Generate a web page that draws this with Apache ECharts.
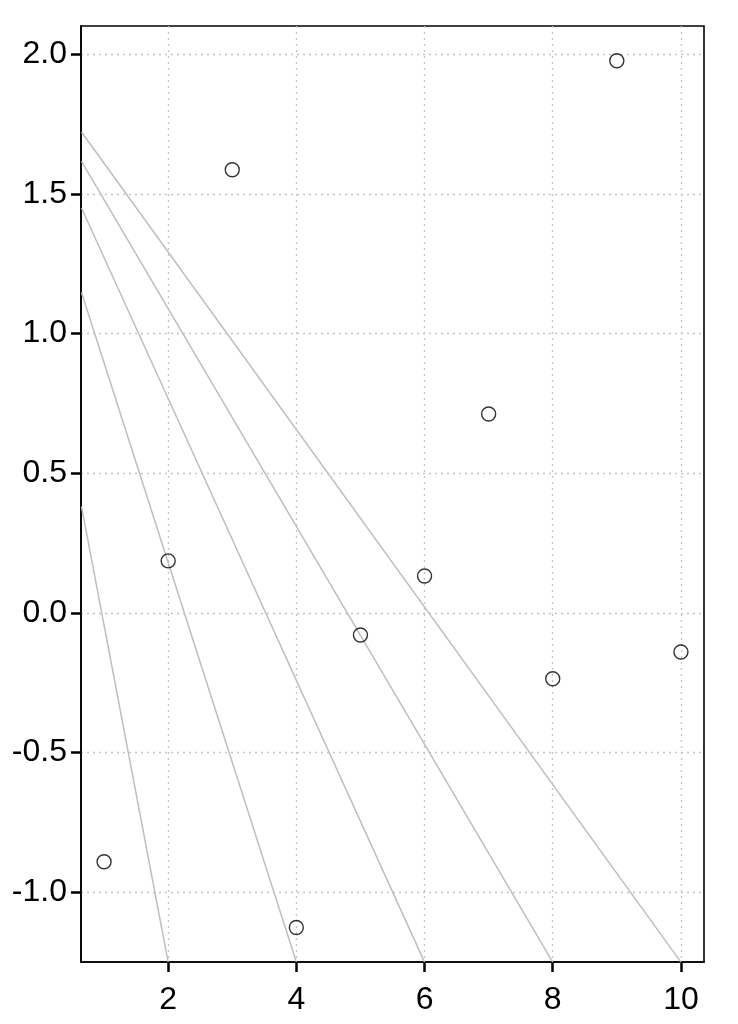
<!DOCTYPE html>
<html>
<head>
<meta charset="utf-8">
<script src="https://cdn.jsdelivr.net/npm/echarts@6/dist/echarts.min.js"></script>
<style>
html,body{margin:0;padding:0;background:#fff;}
#chart{width:738px;height:1024px;}
</style>
</head>
<body>
<div id="chart"></div>
<script>
// Data
const xValues = [1, 2, 3, 4, 5, 6, 7, 8, 9, 10];
const yValues = [-0.891, 0.186, 1.586, -1.126, -0.079, 0.132, 0.712, -0.236, 1.976, -0.140];

// Gray reference lines: start point on left edge, end point on bottom edge
const lineStartX = [0.648, 0.648, 0.648, 0.648, 0.648];
const lineStartY = [0.38, 1.147, 1.449, 1.616, 1.721];
const lineEndX = [2, 4, 6, 8, 10];
const lineEndY = [-1.25, -1.25, -1.25, -1.25, -1.25];

const xTicks = [2, 4, 6, 8, 10];
const yTicks = [-1.0, -0.5, 0.0, 0.5, 1.0, 1.5, 2.0];
const xRange = [0.64, 10.36];
const yRange = [-1.2497, 2.1006];

const chart = echarts.init(document.getElementById('chart'));
const fontFamily = '"Liberation Sans", Arial, sans-serif';

const lineSeries = lineStartX.map((x0, i) => ({
  type: 'line',
  data: [[x0, lineStartY[i]], [lineEndX[i], lineEndY[i]]],
  symbol: 'none',
  silent: true,
  clip: true,
  lineStyle: { color: '#bebebe', width: 1.5 },
  z: 2
}));

chart.setOption({
  animation: false,
  backgroundColor: '#ffffff',
  grid: {
    left: 81, right: 34, top: 26, bottom: 62,
    show: true, borderColor: '#000', borderWidth: 1.6, backgroundColor: 'transparent'
  },
  xAxis: {
    type: 'value',
    position: 'bottom',
    min: xRange[0], max: xRange[1],
    axisLine: { show: true, onZero: false, lineStyle: { color: '#000', width: 1.6 } },
    axisTick: { show: true, customValues: xTicks, length: 10, inside: false, lineStyle: { color: '#000', width: 2.5 } },
    axisLabel: { customValues: xTicks, margin: 22, color: '#000', fontSize: 32, fontFamily: fontFamily,
      formatter: v => String(v) },
    splitLine: { show: true, lineStyle: { color: '#c4c4c4', type: [2, 4], width: 1.3 } }
  },
  yAxis: {
    type: 'value',
    position: 'left',
    min: yRange[0], max: yRange[1],
    axisLine: { show: true, onZero: false, lineStyle: { color: '#000', width: 1.6 } },
    axisTick: { show: true, customValues: yTicks, length: 10, inside: false, lineStyle: { color: '#000', width: 2.5 } },
    axisLabel: { customValues: yTicks, margin: 14, color: '#000', fontSize: 32, fontFamily: fontFamily,
      formatter: v => Number(v).toFixed(1) },
    splitLine: { show: true, lineStyle: { color: '#c4c4c4', type: [2, 4], width: 1.3 } }
  },
  series: lineSeries.concat([{
    type: 'scatter',
    data: xValues.map((x, i) => [x, yValues[i]]),
    symbol: 'circle',
    symbolSize: 14,
    itemStyle: { color: 'rgba(0,0,0,0)', borderColor: '#000', borderWidth: 1.4 },
    z: 3
  }])
});
</script>
</body>
</html>
